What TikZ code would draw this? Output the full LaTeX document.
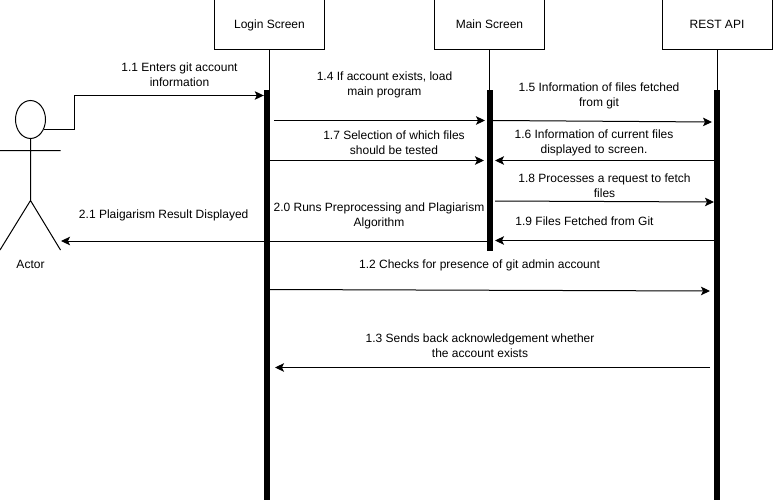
\documentclass[tikz,border=0pt]{standalone}
\usepackage{fontspec}
\setmainfont{Liberation Sans}
\usetikzlibrary{arrows.meta,shapes.geometric}
\tikzset{
  x=1pt,y=-1pt,
  head/.style={draw=black,line width=1pt,minimum width=110pt,minimum height=50pt,inner sep=0pt,text height=9pt,text depth=2.5pt,font=\fontsize{12pt}{15pt}\selectfont},
  bar/.style={fill=black,draw=none,minimum width=6pt,inner sep=0pt},
  life/.style={line width=1pt},
  msg/.style={line width=1pt,-{Stealth[length=9pt,width=8.5pt,inset=2pt]}},
  lab/.style={align=center,inner sep=0pt,font=\fontsize{12pt}{15pt}\selectfont}
}
\begin{document}
\begin{tikzpicture}
\useasboundingbox[fill=white] (0,0) rectangle (773,500);
\node[head] (login) at (269.5,25) {Login Screen};
\node[head] (main) at (489.5,25) {Main Screen};
\node[head] (rest) at (717,25) {REST API};
\node[bar,minimum height=410pt] (lb) at (267,295) {};
\node[bar,minimum height=161pt] (mb) at (490,170.5) {};
\node[bar,minimum height=410pt] (rb) at (717,295) {};
\draw[life] (login.south) -- (lb.north -| login.south);
\draw[life] (main.south) -- (mb.north -| main.south);
\draw[life] (rest.south) -- (rb.north -| rest.south);
% actor
\node[draw=black,line width=1pt,ellipse,minimum width=30pt,minimum height=38pt,inner sep=0pt] (head) at (30.5,119.5) {};
\coordinate (hip) at (30.5,200.5);
\coordinate (armL) at (0,150.5);
\coordinate (armR) at (60.5,150.5);
\coordinate (footL) at (0,250);
\coordinate (footR) at (60.5,250);
\coordinate (a0) at (44,129.5);
\draw[life] (head.south) -- (hip) (armL) -- (armR) (footL) -- (hip) -- (footR);
\node[lab] (actor) at (30.5,264) {Actor};
% messages
\draw[msg] (a0) -- (74.5,129.5) -- (74.5,95.5) -- (lb.west |- 0,95.5);
\coordinate (m14a) at (274,120.5); \coordinate (m14b) at (485,120.5);
\draw[msg] (m14a) -- (m14b);
\coordinate (m15a) at (493,120.5); \coordinate (m15b) at (712,122);
\draw[msg] (m15a) -- (m15b);
\coordinate (m17a) at (270,160.5); \coordinate (m17b) at (484,160.5);
\draw[msg] (m17a) -- (m17b);
\coordinate (m16a) at (714,160.5); \coordinate (m16b) at (495,160.5);
\draw[msg] (m16a) -- (m16b);
\coordinate (m18a) at (495,201); \coordinate (m18b) at (714,202);
\draw[msg] (m18a) -- (m18b);
\coordinate (m19a) at (714,240.5); \coordinate (m19b) at (495,240.5);
\draw[msg] (m19a) -- (m19b);
\coordinate (m21a) at (487,241); \coordinate (m21b) at (61,241);
\draw[msg] (m21a) -- (m21b);
\coordinate (m12a) at (270,289.5); \coordinate (m12b) at (710,291);
\draw[msg] (m12a) -- (m12b);
\coordinate (m13a) at (710,367.5); \coordinate (m13b) at (275,367.5);
\draw[msg] (m13a) -- (m13b);
% labels
\node[lab] (l11) at (179.5,74.5) {1.1 Enters git account\\information};
\node[lab] (l14) at (384.5,85) {1.4 If account exists, load\\main program};
\node[lab] (l15) at (599,95.5) {1.5 Information of files fetched\\from git};
\node[lab] (l17) at (394,142.5) {1.7 Selection of which files\\should be tested};
\node[lab] (l16) at (594,142.5) {1.6 Information of current files\\displayed to screen.};
\node[lab] (l18) at (604.5,185.5) {1.8 Processes a request to fetch\\files};
\node[lab] (l19) at (584.5,221) {1.9 Files Fetched from Git};
\node[lab] (l20) at (379,216) {2.0 Runs Preprocessing and Plagiarism\\Algorithm};
\node[lab] (l21) at (163.7,215) {2.1 Plaigarism Result Displayed};
\node[lab] (l12) at (479.5,265) {1.2 Checks for presence of git admin account};
\node[lab] (l13) at (480,346) {1.3 Sends back acknowledgement whether\\the account exists};
\end{tikzpicture}
\end{document}
